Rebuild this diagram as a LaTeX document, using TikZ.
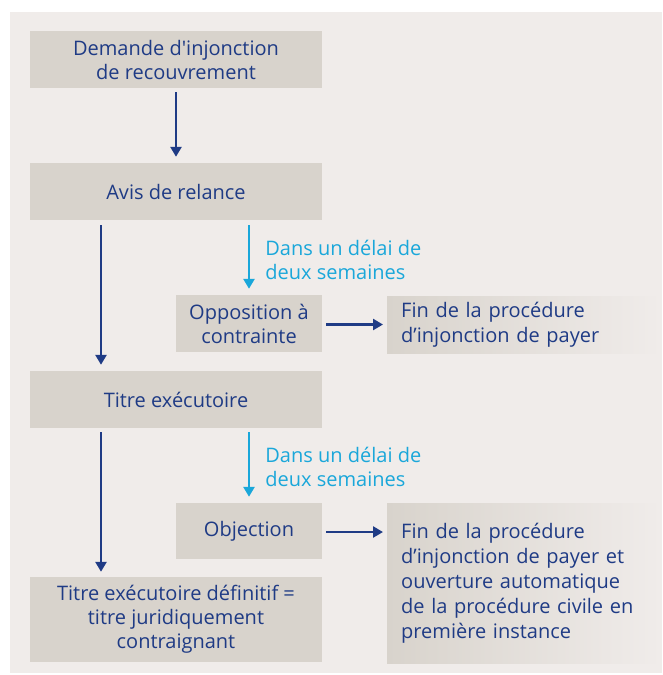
\documentclass[tikz,border=0pt]{standalone}
\usepackage{fontspec}
\setmainfont{Open Sans}
\usetikzlibrary{arrows.meta}
\definecolor{panelbg}{HTML}{F0ECEA}
\definecolor{boxbg}{HTML}{D8D3CC}
\definecolor{navy}{HTML}{1F3B85}
\definecolor{skyblue}{HTML}{1AA7DA}
\begin{document}
\begin{tikzpicture}[x=1pt, y=-1pt,
    box/.style = {fill=boxbg, text=navy, align=center, inner sep=0pt,
        minimum width=292pt, minimum height=57pt, font=\fontsize{20}{24}\selectfont},
    smallbox/.style = {box, minimum width=146pt},
    endbox/.style = {left color=boxbg, right color=panelbg, text=navy, align=left,
        text width=246pt, inner xsep=14pt, inner ysep=0pt, minimum height=57pt,
        anchor=west, font=\fontsize{20}{25}\selectfont},
    arr/.style = {draw=navy, line width=2.8pt, -{Triangle[width=11pt, length=10pt]}},
    warn/.style = {arr, draw=skyblue},
    lbl/.style = {text=skyblue, align=left, inner sep=0pt, anchor=west,
        xshift=15pt, font=\fontsize{20}{24}\selectfont}]
    \useasboundingbox (0,0) rectangle (662,675);
    \fill[panelbg] (10,12) rectangle (662,673);

    \node[box] (demande) at (176,59.5) {Demande d\textquotesingle injonction\\de recouvrement};
    \node[box] (relance) at (176,191.5) {Avis de relance};
    \node[smallbox] (opposition) at (249,323.5) {Opposition à\\contrainte};
    \node[endbox] (fin1) at (387,324.5) {Fin de la procédure\\d’injonction de payer};
    \node[box] (titre) at (176,399.5) {Titre exécutoire};
    \node[smallbox, minimum height=56pt] (objection) at (249,531) {\raisebox{-2pt}{Objection}};
    \node[endbox, minimum height=160pt] (fin2) at (387,583)
        {Fin de la procédure\\d’injonction de payer et\\ouverture automatique\\de la procédure civile en\\première instance};
    \node[box, minimum height=85pt] (definitif) at (176,619.5)
        {Titre exécutoire définitif =\\titre juridiquement\\contraignant};

    % main line
    \draw[arr, shorten <=4pt, shorten >=6pt] (demande) -- (relance);
    \draw[arr, shorten <=5pt, shorten >=6pt] ([xshift=-75pt]relance.south) -- ([xshift=-75pt]titre.north);
    \draw[arr, shorten <=4pt, shorten >=5pt] ([xshift=-75pt]titre.south) -- ([xshift=-75pt]definitif.north);

    % two week delay
    \draw[warn, shorten <=5pt, shorten >=6pt] (relance.south -| opposition.north) -- (opposition.north)
        node[lbl, midway, yshift=-2pt] {Dans un délai de\\deux semaines};
    \draw[warn, shorten <=4pt, shorten >=6pt] (titre.south -| objection.north) -- (objection.north)
        node[lbl, midway, yshift=-1pt] {Dans un délai de\\deux semaines};

    \draw[arr, shorten <=4pt, shorten >=4pt] (opposition.east |- fin1.west) -- (fin1.west);
    \draw[arr, shorten <=4pt, shorten >=4pt] ([yshift=-1pt]objection.east) -- ([yshift=-1pt]objection.east -| fin2.west);
\end{tikzpicture}
\end{document}
